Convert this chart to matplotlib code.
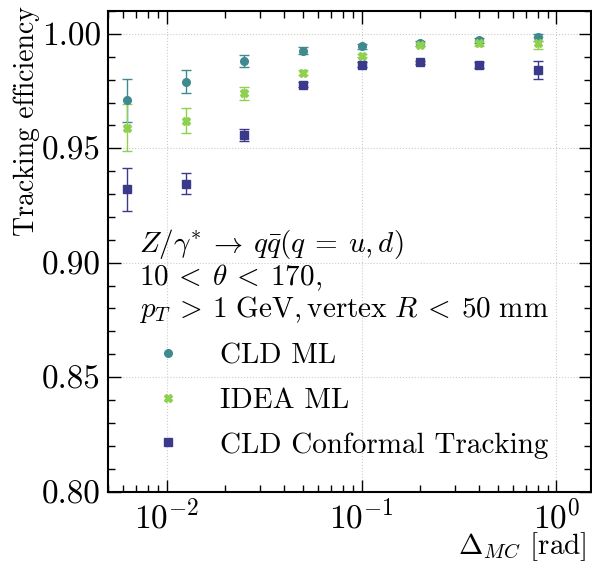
import matplotlib
matplotlib.use("Agg")
import matplotlib.pyplot as plt
import numpy as np

# Angular distance bins (rad)
delta_mc = [0.00625, 0.0125, 0.025, 0.05, 0.1, 0.2, 0.4, 0.8]

# Tracking efficiency and uncertainties per algorithm
eff_cld_ml = [0.971, 0.979, 0.988, 0.9926, 0.9945, 0.9958, 0.9972, 0.9985]
err_cld_ml = [0.0094, 0.005, 0.0026, 0.0015, 0.001, 0.0009, 0.0012, 0.0015]

eff_idea_ml = [0.959, 0.962, 0.974, 0.983, 0.9905, 0.9953, 0.9958, 0.996]
err_idea_ml = [0.0103, 0.0055, 0.0029, 0.0011, 0.0008, 0.0008, 0.0012, 0.0025]

eff_cld_ct = [0.932, 0.9346, 0.9558, 0.9778, 0.9866, 0.9875, 0.9863, 0.9842]
err_cld_ct = [0.0092, 0.0047, 0.0026, 0.0012, 0.001, 0.0008, 0.0013, 0.0038]

series = [
    ("CLD ML", eff_cld_ml, err_cld_ml, "o", "#3f8a8f"),
    ("IDEA ML", eff_idea_ml, err_idea_ml, "X", "#8fd14f"),
    ("CLD Conformal Tracking", eff_cld_ct, err_cld_ct, "s", "#3b3a8a"),
]

plt.rcParams["font.family"] = "serif"
plt.rcParams["font.serif"] = ["cmr10"]
plt.rcParams["mathtext.fontset"] = "cm"
plt.rcParams["axes.formatter.use_mathtext"] = True
plt.rcParams["font.size"] = 20

fig = plt.figure(figsize=(5.92, 5.64), dpi=100)
ax = fig.add_axes([0.1824, 0.1285, 0.8156, 0.852])

handles, labels = [], []
for label, eff, err, marker, color in series:
    cont = ax.errorbar(delta_mc, eff, yerr=err, fmt=marker, color=color, ms=5.5,
                       capsize=3.5, elinewidth=1.0, capthick=1.0, label=label,
                       zorder=3)
    handles.append(cont[0])
    labels.append(label)

ax.set_xscale("log")
ax.set_xlim(0.005, 1.5)
ax.set_ylim(0.80, 1.01)
ax.set_yticks(np.arange(0.80, 1.001, 0.05))
ax.yaxis.set_minor_locator(matplotlib.ticker.MultipleLocator(0.01))
ax.yaxis.set_major_formatter(matplotlib.ticker.FormatStrFormatter("%.2f"))

ax.tick_params(which="both", direction="in", top=True, right=True, width=1.0)
ax.tick_params(which="major", length=9, labelsize=24)
ax.tick_params(axis="y", which="major", pad=5)
ax.tick_params(axis="x", which="major", pad=5)
ax.tick_params(which="minor", length=5)
for sp in ax.spines.values():
    sp.set_linewidth(1.5)

ax.grid(True, which="major", linestyle=":", color="#cccccc", linewidth=0.8, zorder=0)

ax.set_xlabel(r"$\Delta_{MC}$ [rad]", loc="right", fontsize=21)
ax.xaxis.set_label_coords(0.99, -0.08)
ax.set_ylabel("Tracking efficiency", loc="top", fontsize=20)
ax.yaxis.set_label_coords(-0.14, 1.01)

title = (r"$Z/\gamma^{*} \:\rightarrow\: q\bar{q}(q\:=\:u,d)$" "\n"
         r"$10\:<\:\theta\:<\:170,$" "\n"
         r"$p_T\:>\:1\ \mathrm{GeV}, \mathrm{vertex}\ R\:<\:50\ \mathrm{mm}$")
leg = ax.legend(handles, labels, title=title, loc="lower left", frameon=False,
                fontsize=21, title_fontsize=21, alignment="left",
                labelspacing=0.62, borderaxespad=0.4,
                bbox_to_anchor=(0.015, 0.02))
leg.get_title().set_linespacing(1.05)

fig.savefig("out.png", dpi=100)
